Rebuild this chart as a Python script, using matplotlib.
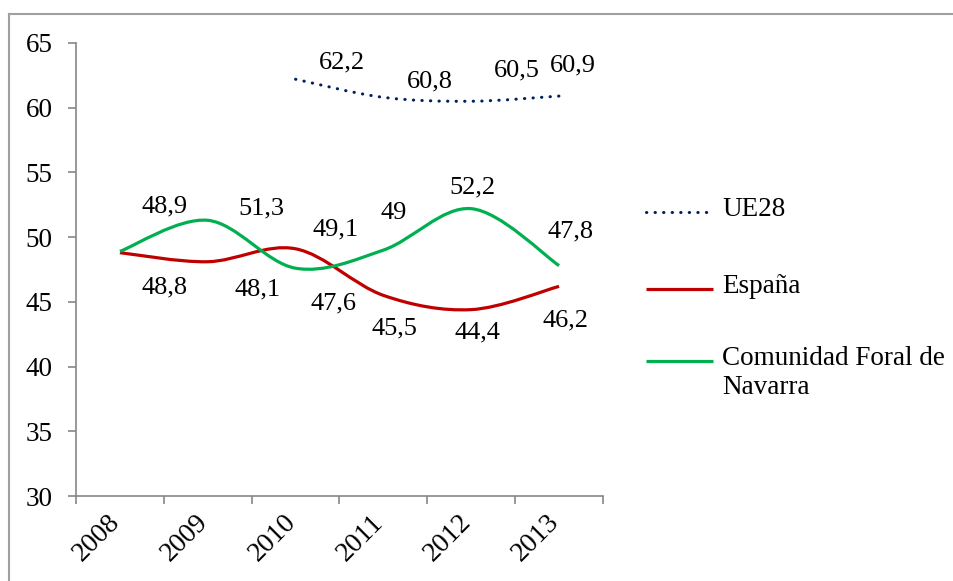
import matplotlib
matplotlib.use("Agg")
import matplotlib.pyplot as plt
import matplotlib.transforms as mtransforms
import numpy as np
from matplotlib.path import Path
from matplotlib.patches import PathPatch
from matplotlib.lines import Line2D

# data
years = ["2008", "2009", "2010", "2011", "2012", "2013"]
ue28 = [None, None, 62.2, 60.8, 60.5, 60.9]
espana = [48.8, 48.1, 49.1, 45.5, 44.4, 46.2]
navarra = [48.9, 51.3, 47.6, 49.0, 52.2, 47.8]
names = ["UE28", "España", "Comunidad Foral de\nNavarra"]

# label offsets in pixels (as placed in the original chart)
off_ue28 = [None, None, (46, 17), (46, 16), (46, 31), (14, 31)]
off_esp = [(45, -35), (50, -28), (40, 19), (11, -33), (6, -23), (6, -34)]
off_nav = [(45, 45), (54, 12), (38, -35), (10, 37), (1, 21), (11, 34)]

W, H = 954, 581
plt.rcParams["font.family"] = ["Liberation Serif", "DejaVu Serif"]


def smooth_path(xs, ys):
    # excel-like smoothed line: cubic bezier segments through the points
    pts = np.column_stack([xs, ys]).astype(float)
    n = len(pts)
    verts = [pts[0]]
    codes = [Path.MOVETO]
    for i in range(n - 1):
        p0 = pts[max(i - 1, 0)]
        p1 = pts[i]
        p2 = pts[i + 1]
        p3 = pts[min(i + 2, n - 1)]
        verts += [p1 + (p2 - p0) / 6, p2 - (p3 - p1) / 6, p2]
        codes += [Path.CURVE4] * 3
    return Path(verts, codes)


fig = plt.figure(figsize=(W / 100, H / 100), dpi=100)
ax = fig.add_axes([76 / W, 1 - 496 / H, (603 - 76) / W, (496 - 43) / H])

series = [
    (ue28, off_ue28, dict(color="#002060", lw=2.2, dashes=(0.1, 2.7), capstyle="round")),
    (espana, off_esp, dict(color="#C00000", lw=2.3)),
    (navarra, off_nav, dict(color="#00B050", lw=2.3)),
]

for vals, offs, st in series:
    idx = [i for i, v in enumerate(vals) if v is not None]
    ys = [vals[i] for i in idx]
    p = PathPatch(smooth_path(idx, ys), fill=False, edgecolor=st["color"],
                  lw=st["lw"], capstyle=st.get("capstyle", "butt"))
    if "dashes" in st:
        p.set_linestyle((0, st["dashes"]))
    ax.add_patch(p)
    for i in idx:
        lab = f"{vals[i]:g}".replace(".", ",")
        ax.annotate(lab, (i, vals[i]), xytext=offs[i], textcoords="offset pixels",
                    ha="center", va="center", fontsize=19, color="#000000")

ax.set_xlim(-0.5, len(years) - 0.5)
ax.set_ylim(30, 65)
ax.set_yticks(np.arange(30, 66, 5))
ax.set_xticks(range(len(years)))
ax.set_xticklabels(years, rotation=45, ha="right")
ax.set_xticks(np.arange(-0.5, len(years), 1), minor=True)
ax.tick_params(axis="x", which="major", length=0, pad=10, labelsize=20)
ax.tick_params(axis="x", which="minor", length=6, width=1.2, color="#868686")
ax.tick_params(axis="y", length=6, width=1.2, color="#868686", pad=11, labelsize=19.5)
shift = mtransforms.ScaledTranslation(5 / 100, 0, fig.dpi_scale_trans)
for lbl in ax.get_xticklabels():
    lbl.set_transform(lbl.get_transform() + shift)

for s in ["top", "right"]:
    ax.spines[s].set_visible(False)
for s in ["left", "bottom"]:
    ax.spines[s].set_color("#868686")
    ax.spines[s].set_linewidth(1.2)

# legend drawn by hand to keep the original layout
leg_y = [212, 289, 361]
for (vals, offs, st), name, y in zip(series, names, leg_y):
    yf = 1 - y / H
    ln = Line2D([646 / W, 713 / W], [yf, yf], transform=fig.transFigure,
                color=st["color"], lw=st["lw"], solid_capstyle="butt",
                dash_capstyle=st.get("capstyle", "butt"))
    if "dashes" in st:
        ln.set_linestyle((0, st["dashes"]))
    fig.add_artist(ln)
    fig.text(722 / W, yf + 15 / H, name, ha="left", va="top", fontsize=19.5,
             linespacing=1.2)

# outer frame (only top and left edges visible)
fig.add_artist(Line2D([9 / W, 1], [1 - 14 / H, 1 - 14 / H], transform=fig.transFigure,
                      color="#A0A0A0", lw=1.5))
fig.add_artist(Line2D([9 / W, 9 / W], [0, 1 - 14 / H], transform=fig.transFigure,
                      color="#A0A0A0", lw=1.5))

fig.savefig("out.png", dpi=100)
